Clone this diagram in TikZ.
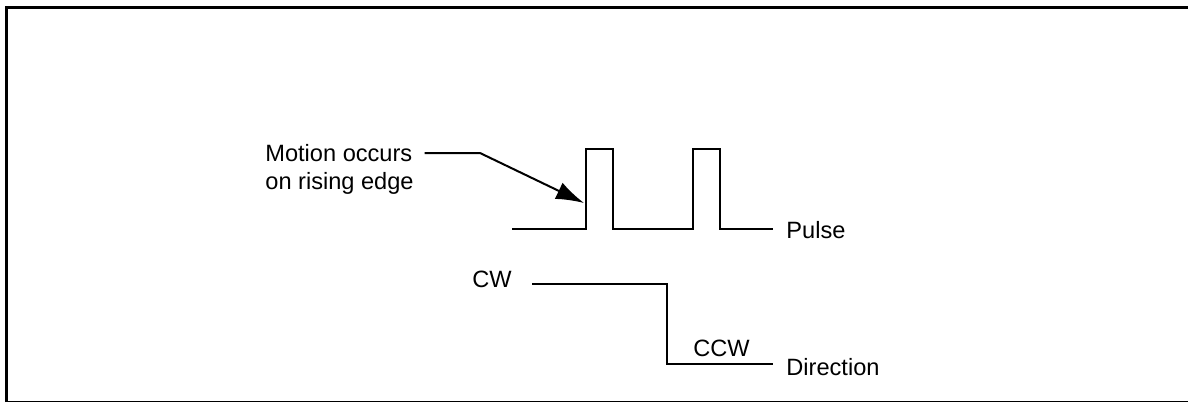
\documentclass[tikz,border=0pt]{standalone}
\usepackage{fontspec}
\setmainfont{Liberation Sans}
\usetikzlibrary{arrows.meta}

\tikzset{
  lbl/.style={anchor=base west,inner sep=0pt,font=\fontsize{11.8}{14}\selectfont},
  wave/.style={line width=1pt,line join=miter},
}

\begin{document}
\begin{tikzpicture}[x=0.5pt,y=0.5pt,yscale=-1,xscale=1]
\useasboundingbox (0,0) rectangle (1188,402);

%Frame
\draw [line width=1.5pt] (6.5,402) -- (6.5,7) -- (1188,7) ;
\draw [line width=0.6pt] (6.5,401.3) -- (1188,401.3) ;

% Text Node
\node [lbl] (motion) at (265,161) {Motion occurs};
% Text Node
\node [lbl] (rising) at (265,189) {on rising edge};
% Text Node
\node [lbl] (pulse) at (786,238) {Pulse};
% Text Node
\node [lbl] (cw) at (472,287) {CW};
% Text Node
\node [lbl] (ccw) at (693,356) {CCW};
% Text Node
\node [lbl] (dir) at (786,375) {Direction};

%Pulse train
\draw [wave] (512,229) -- (586,229) -- (586,149) -- (613,149) -- (613,229) -- (693,229) -- (693,149) -- (720,149) -- (720,229) -- (773,229) ;
\coordinate (edge) at (584,203);

%Direction
\draw [wave] (532,284) -- (667,284) -- (667,364) -- (773,364) ;

% Connection
\draw [line width=1pt,-{Latex[length=14pt,width=9pt]}] ([xshift=6pt]motion.east |- 0,153) -- (480,153) -- (edge) ;

\end{tikzpicture}
\end{document}
